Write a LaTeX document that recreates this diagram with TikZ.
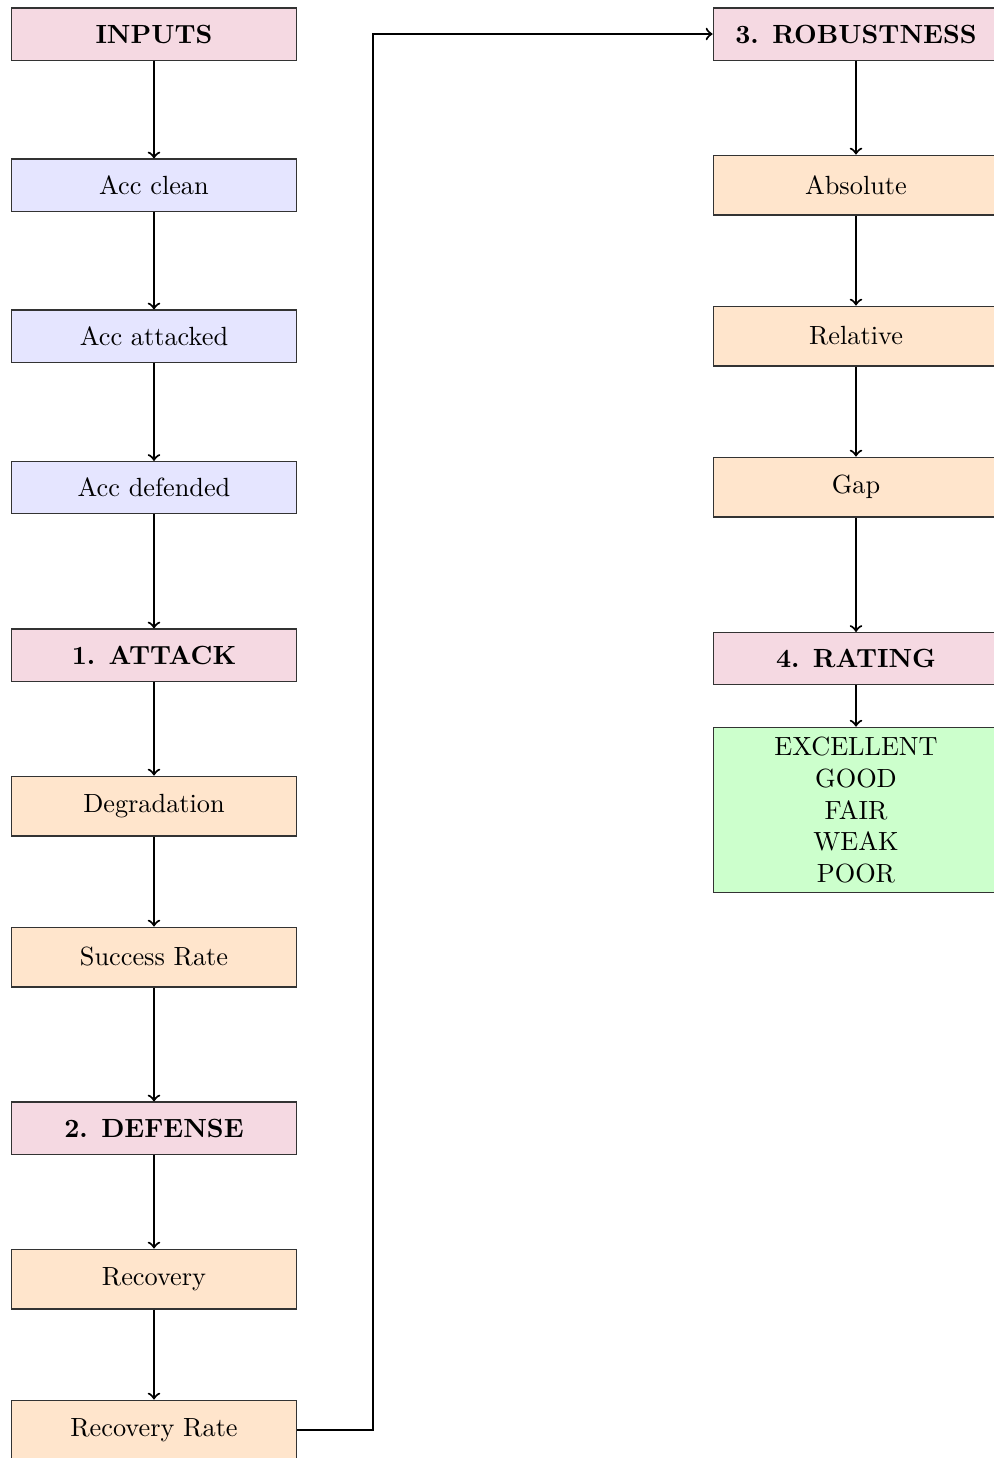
\documentclass[tikz,border=0pt]{standalone}
\usepackage{tikz}
\definecolor{hdrfill}{rgb}{0.9625,0.85,0.8875}
\definecolor{infill}{rgb}{0.9,0.9,1}
\definecolor{metfill}{rgb}{1,0.9,0.8}
\definecolor{ratefill}{rgb}{0.8,1,0.8}
\begin{document}
\begin{tikzpicture}[x=0.3802pt,y=-0.3802pt,
  box/.style={draw=black!80,thin,minimum width=108.7pt,inner sep=3.33pt,font=\normalsize},
  header/.style={box,fill=hdrfill,minimum height=19.8pt,font=\bfseries},
  inbox/.style={box,fill=infill,minimum height=19.8pt},
  metric/.style={box,fill=metfill,minimum height=22.8pt},
  ratebox/.style={box,fill=ratefill,minimum height=63pt,align=center},
  arr/.style={->,thick}]
\useasboundingbox (0,0) rectangle (994,1458);
\clip (0,0) rectangle (994,1458);

% left column
\node[header] (inputs) at (154,34) {INPUTS};
\node[inbox] (clean) at (154,185) {Acc clean};
\node[inbox] (attacked) at (154,336) {Acc attacked};
\node[inbox] (defended) at (154,487.5) {Acc defended};
\node[header] (attack) at (154,655) {1. ATTACK};
\node[metric] (degr) at (154,806) {Degradation};
\node[metric] (succ) at (154,957) {Success Rate};
\node[header] (defense) at (154,1128) {2. DEFENSE};
\node[metric] (recov) at (154,1279) {Recovery};
\node[metric] (rrate) at (154,1430) {Recovery Rate};

% right column
\node[header] (robust) at (856,34) {3. ROBUSTNESS};
\node[metric] (abs) at (856,185) {Absolute};
\node[metric] (rel) at (856,336) {Relative};
\node[metric] (gap) at (856,487) {Gap};
\node[header] (rating) at (856,658.5) {4. RATING};
\node[ratebox] (levels) at (856,810) {EXCELLENT\\GOOD\\FAIR\\WEAK\\POOR};

% connectors
\draw[arr] (inputs) -- (clean);
\draw[arr] (clean) -- (attacked);
\draw[arr] (attacked) -- (defended);
\draw[arr] (defended) -- (attack);
\draw[arr] (attack) -- (degr);
\draw[arr] (degr) -- (succ);
\draw[arr] (succ) -- (defense);
\draw[arr] (defense) -- (recov);
\draw[arr] (recov) -- (rrate);
\coordinate (bend) at (373,1430);
\draw[arr] (rrate.east) -- (bend) |- (robust.west);
\draw[arr] (robust) -- (abs);
\draw[arr] (abs) -- (rel);
\draw[arr] (rel) -- (gap);
\draw[arr] (gap) -- (rating);
\draw[arr] (rating) -- (levels);
\end{tikzpicture}
\end{document}
